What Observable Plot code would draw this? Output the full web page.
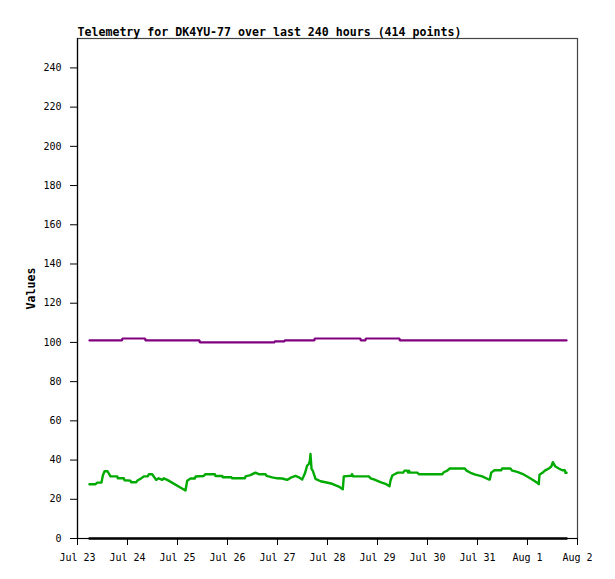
<!DOCTYPE html>
<html><head><meta charset="utf-8">
<script src="https://cdn.jsdelivr.net/npm/d3@7"></script>
<script src="https://cdn.jsdelivr.net/npm/@observablehq/plot@0.6"></script>
<style>body{margin:0;background:#fff}</style>
</head><body><div id="chart"></div>
<script>
const titleText = "Telemetry for DK4YU-77 over last 240 hours (414 points)";
const yLabel = "Values";

const greenTimes = [
 "2023-07-23T05:45","2023-07-23T08:40","2023-07-23T09:30","2023-07-23T11:30","2023-07-23T12:10","2023-07-23T13:00","2023-07-23T14:25","2023-07-23T15:50","2023-07-23T19:05","2023-07-23T19:20","2023-07-23T22:15","2023-07-23T22:35",
 "2023-07-24T01:25","2023-07-24T01:45","2023-07-24T04:10","2023-07-24T04:55","2023-07-24T06:15","2023-07-24T07:50","2023-07-24T09:45","2023-07-24T10:15","2023-07-24T11:50","2023-07-24T13:45","2023-07-24T15:00","2023-07-24T16:40","2023-07-24T17:25","2023-07-24T19:05",
 "2023-07-25T03:50","2023-07-25T04:40","2023-07-25T06:15","2023-07-25T08:20","2023-07-25T08:40","2023-07-25T12:35","2023-07-25T13:25","2023-07-25T17:55","2023-07-25T18:15","2023-07-25T21:30","2023-07-25T21:45",
 "2023-07-26T01:55","2023-07-26T02:15","2023-07-26T08:20","2023-07-26T08:40","2023-07-26T11:00","2023-07-26T13:25","2023-07-26T15:00","2023-07-26T18:15","2023-07-26T18:45","2023-07-26T21:30","2023-07-26T23:50",
 "2023-07-27T02:15","2023-07-27T04:40","2023-07-27T06:45","2023-07-27T08:40","2023-07-27T10:15","2023-07-27T11:50","2023-07-27T13:05","2023-07-27T14:15","2023-07-27T15:00","2023-07-27T15:30","2023-07-27T15:50","2023-07-27T16:20","2023-07-27T16:55","2023-07-27T18:15","2023-07-27T20:40","2023-07-27T23:00",
 "2023-07-28T02:15","2023-07-28T05:25","2023-07-28T07:20","2023-07-28T07:50","2023-07-28T11:30","2023-07-28T11:45","2023-07-28T12:20","2023-07-28T19:50","2023-07-28T20:40","2023-07-28T22:15",
 "2023-07-29T01:25","2023-07-29T03:50","2023-07-29T05:45","2023-07-29T06:15","2023-07-29T07:05","2023-07-29T08:40","2023-07-29T09:45","2023-07-29T12:20","2023-07-29T13:00","2023-07-29T14:15","2023-07-29T14:40","2023-07-29T15:05","2023-07-29T15:35","2023-07-29T19:05","2023-07-29T19:50",
 "2023-07-30T07:05","2023-07-30T07:50","2023-07-30T09:30","2023-07-30T10:40","2023-07-30T17:55","2023-07-30T18:45","2023-07-30T20:40","2023-07-30T23:00",
 "2023-07-31T02:15","2023-07-31T05:25","2023-07-31T05:55","2023-07-31T06:35","2023-07-31T08:10","2023-07-31T11:25","2023-07-31T11:50","2023-07-31T15:50","2023-07-31T16:40","2023-07-31T19:05","2023-07-31T21:30","2023-07-31T23:50",
 "2023-08-01T02:15","2023-08-01T04:40","2023-08-01T05:25","2023-08-01T05:45","2023-08-01T07:20","2023-08-01T08:20","2023-08-01T10:15","2023-08-01T11:25","2023-08-01T12:10","2023-08-01T13:25","2023-08-01T15:00","2023-08-01T16:40","2023-08-01T17:55","2023-08-01T18:15","2023-08-01T18:45"
];
const greenValues = [
 27.7,27.7,28.5,28.5,32.1,34.3,34.3,31.7,31.7,30.7,30.7,29.7,
 29.5,28.7,28.7,29.7,30.4,31.7,31.7,32.8,32.8,29.9,30.7,29.9,30.7,29.9,
 24.5,29.5,30.6,30.6,31.6,31.9,32.8,32.8,31.9,31.9,31.2,
 31.2,30.7,30.7,31.7,32.3,33.6,32.8,32.8,31.9,31.2,30.7,
 30.6,29.9,31.2,31.9,31.2,30.1,33.0,37.2,38.0,39.4,43.1,35.5,34.6,30.4,29.2,28.7,
 27.9,26.5,25.1,31.7,32.0,32.8,31.7,31.7,30.7,30.1,
 28.7,27.9,26.6,29.5,32.1,33.0,33.6,33.6,34.6,34.6,33.6,34.6,33.6,33.6,32.8,
 32.8,33.8,34.6,35.7,35.7,34.6,33.5,32.6,
 31.7,30.1,30.1,33.6,34.8,34.8,35.7,35.7,34.6,34.0,33.0,31.6,
 30.1,28.4,27.7,32.5,33.6,34.6,35.7,36.7,38.9,36.7,35.7,34.8,34.8,33.5,33.5
];

const purpleTimes = [
 "2023-07-23T05:45","2023-07-23T21:25","2023-07-23T21:30","2023-07-24T08:30","2023-07-24T08:35",
 "2023-07-25T10:35","2023-07-25T10:40","2023-07-26T22:35","2023-07-26T22:40","2023-07-27T03:20","2023-07-27T03:25",
 "2023-07-27T17:45","2023-07-27T17:50","2023-07-28T15:50","2023-07-28T15:55","2023-07-28T18:15","2023-07-28T18:20",
 "2023-07-29T10:35","2023-07-29T10:40","2023-08-01T18:45"
];
const purpleValues = [
 101,101,102,102,101,
 101,100,100,100.5,100.5,101,
 101,102,102,101,101,102,
 102,101,101
];

const blackTimes = ["2023-07-23T05:45","2023-08-01T18:45"];
const blackValues = [0,0];

const xTickDates = ["2023-07-23","2023-07-24","2023-07-25","2023-07-26","2023-07-27","2023-07-28","2023-07-29","2023-07-30","2023-07-31","2023-08-01","2023-08-02"];
const yTickValues = [0,20,40,60,80,100,120,140,160,180,200,220,240];
const yMax = 255;

const parse = s => new Date(s.length === 10 ? s + "T00:00Z" : s + "Z");
const toRows = (ts, vs) => ts.map((t, i) => ({t: parse(t), v: vs[i]}));
const green = toRows(greenTimes, greenValues);
const purple = toRows(purpleTimes, purpleValues);
const black = toRows(blackTimes, blackValues);
const xTicks = xTickDates.map(parse);
const fmt = d3.utcFormat("%b %-d");

const chart = Plot.plot({
  width: 615,
  height: 579,
  marginLeft: 77,
  marginRight: 38,
  marginTop: 38,
  marginBottom: 41,
  style: {fontFamily: "DejaVu Sans Mono", fontSize: "10px", background: "#fff", color: "#000"},
  x: {type: "utc", domain: [xTicks[0], xTicks[xTicks.length - 1]]},
  y: {domain: [0, yMax]},
  marks: [
    Plot.frame({stroke: "#444", strokeWidth: 1.2}),
    Plot.ruleX([xTicks[0]], {stroke: "#000", strokeWidth: 1.2}),
    Plot.ruleY([0], {stroke: "#000", strokeWidth: 1.2}),
    Plot.axisY({ticks: yTickValues, tickSize: 7, tickPadding: 9, label: null, tickFormat: d => String(d), fill: "#000", stroke: "#000"}),
    Plot.axisX({ticks: xTicks, tickSize: 7, tickPadding: 8, label: null, tickFormat: fmt, fill: "#000", stroke: "#000"}),
    Plot.line(black, {x: "t", y: "v", stroke: "#000", strokeWidth: 2.5}),
    Plot.line(purple, {x: "t", y: "v", stroke: "#800080", strokeWidth: 2.2, strokeLinejoin: "miter"}),
    Plot.line(green, {x: "t", y: "v", stroke: "#00aa00", strokeWidth: 2.4}),
    Plot.text([titleText], {frameAnchor: "top-left", textAnchor: "start", lineAnchor: "bottom", dy: -3, fontWeight: "bold", fontSize: 11.6, fill: "#000"}),
    Plot.text([yLabel], {frameAnchor: "left", textAnchor: "middle", lineAnchor: "middle", rotate: -90, dx: -46, fontWeight: "bold", fontSize: 11.6, fill: "#000"})
  ]
});
document.getElementById("chart").appendChild(chart);
</script>
</body></html>
